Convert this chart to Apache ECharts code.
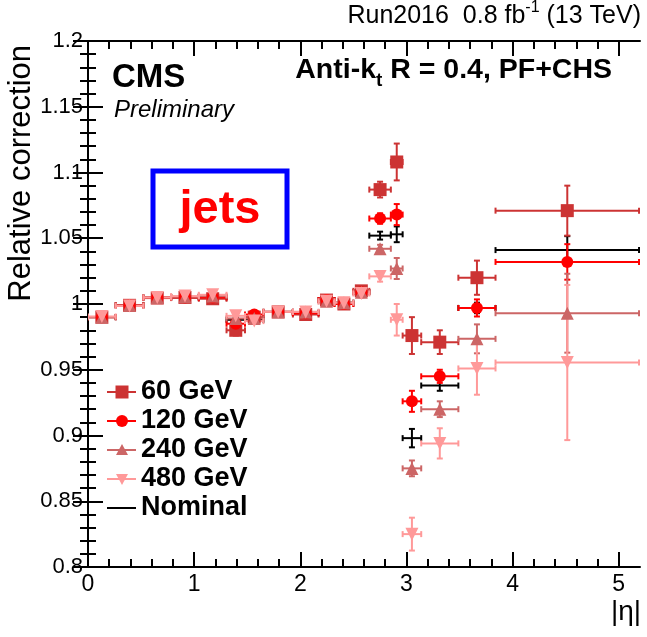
<!DOCTYPE html>
<html><head><meta charset="utf-8">
<script src="https://cdn.jsdelivr.net/npm/echarts@6/dist/echarts.min.js"></script>
<style>html,body{margin:0;padding:0;background:#fff}#c{width:647px;height:637px}</style>
</head><body><div id="c"></div>
<script>
// ---- data ----
const etaEdges = [0, 0.261, 0.522, 0.783, 1.044, 1.305, 1.479, 1.653, 1.930, 2.172, 2.322, 2.500, 2.650, 2.853, 2.964, 3.139, 3.489, 3.839, 5.191];
const seriesNames = ['60 GeV', '120 GeV', '240 GeV', '480 GeV', 'Nominal'];
const val60  = [0.990, 0.999, 1.0045, 1.005, 1.004, 0.980, 0.990, 0.994, 0.992, 1.003, 1.000, 1.010, 1.087, 1.108, 0.976, 0.971, 1.020, 1.071];
const err60  = [0.002, 0.002, 0.002, 0.002, 0.002, 0.004, 0.002, 0.002, 0.002, 0.002, 0.002, 0.003, 0.006, 0.014, 0.014, 0.009, 0.013, 0.019];
const val120 = [0.990, 0.999, 1.005, 1.005, 1.005, 0.985, 0.992, 0.994, 0.993, 1.003, 1.000, 1.009, 1.065, 1.068, 0.926, 0.945, 0.997, 1.032];
const err120 = [0.002, 0.002, 0.002, 0.002, 0.002, 0.003, 0.002, 0.002, 0.002, 0.002, 0.002, 0.003, 0.004, 0.008, 0.008, 0.005, 0.0065, 0.0135];
const val240 = [0.990, 0.999, 1.005, 1.0055, 1.006, 0.989, 0.989, 0.994, 0.994, 1.002, 1.001, 1.009, 1.042, 1.027, 0.875, 0.920, 0.9735, 0.993];
const err240 = [0.002, 0.002, 0.002, 0.002, 0.002, 0.003, 0.002, 0.002, 0.002, 0.002, 0.002, 0.003, 0.003, 0.008, 0.006, 0.006, 0.011, 0.030];
const val480 = [0.9905, 0.9985, 1.005, 1.006, 1.007, 0.991, 0.987, 0.994, 0.994, 1.002, 1.001, 1.008, 1.021, 0.988, 0.825, 0.894, 0.951, 0.9555];
const err480 = [0.002, 0.002, 0.002, 0.002, 0.002, 0.003, 0.002, 0.002, 0.002, 0.002, 0.002, 0.003, 0.004, 0.012, 0.0125, 0.0115, 0.020, 0.059];
const valNom = [0.990, 0.999, 1.005, 1.005, 1.005, 0.988, 0.988, 0.994, 0.993, 1.003, 1.001, 1.009, 1.052, 1.053, 0.898, 0.938, 0.997, 1.041];
const errNom = [0.002, 0.002, 0.002, 0.002, 0.002, 0.002, 0.002, 0.002, 0.002, 0.002, 0.002, 0.002, 0.003, 0.006, 0.007, 0.004, 0.004, 0.0106];
const xMajorTicks = [0, 1, 2, 3, 4, 5];
const xMinorTicks = [0.2, 0.4, 0.6, 0.8, 1.2, 1.4, 1.6, 1.8, 2.2, 2.4, 2.6, 2.8, 3.2, 3.4, 3.6, 3.8, 4.2, 4.4, 4.6, 4.8];
const yTickLabels = ['0.8', '0.85', '0.9', '0.95', '1', '1.05', '1.1', '1.15', '1.2'];

// ---- styles ----
const FONT = '"Liberation Sans", Arial, Helvetica, sans-serif';
const colors = ['#cc3333', '#ff0000', '#cc6666', '#ff9999', '#000000'];
const symbols = ['rect', 'circle', 'triangle', 'triangle', 'none'];
const symSizes = [13, 12, 13, 13, 0];
const symRot = [0, 0, 0, 180, 0];

function buildData(vals, errs) {
  return vals.map((v, i) => {
    const lo = etaEdges[i], hi = etaEdges[i + 1];
    return [(lo + hi) / 2, v, lo, hi, errs[i]];
  });
}
const allVals = [val60, val120, val240, val480, valNom];
const allErrs = [err60, err120, err240, err480, errNom];

function errRender(color) {
  return function (params, api) {
    const x = api.value(0), y = api.value(1), xl = api.value(2), xh = api.value(3), e = api.value(4);
    const c = api.coord([x, y]);
    const pl = api.coord([xl, y]), ph = api.coord([xh, y]);
    const pt = api.coord([x, y + e]), pb = api.coord([x, y - e]);
    const cap = 3;
    const style = { stroke: color, lineWidth: 2, fill: null };
    const L = (x1, y1, x2, y2) => ({ type: 'line', shape: { x1, y1, x2, y2 }, style });
    return {
      type: 'group',
      children: [
        L(pl[0], c[1], ph[0], c[1]),
        L(pl[0], c[1] - cap, pl[0], c[1] + cap),
        L(ph[0], c[1] - cap, ph[0], c[1] + cap),
        L(c[0], pt[1], c[0], pb[1]),
        L(c[0] - cap, pt[1], c[0] + cap, pt[1]),
        L(c[0] - cap, pb[1], c[0] + cap, pb[1])
      ]
    };
  };
}

const order = [4, 0, 1, 2, 3];
const series = [];
order.forEach(k => {
  const data = buildData(allVals[k], allErrs[k]);
  series.push({
    type: 'custom', name: seriesNames[k] + ' err', renderItem: errRender(colors[k]),
    data: data, encode: { x: 0, y: 1 }, xAxisIndex: 0, yAxisIndex: 0, silent: true, clip: true
  });
  if (symbols[k] !== 'none') {
    series.push({
      type: 'scatter', name: seriesNames[k], data: data.map(d => [d[0], d[1]]),
      symbol: symbols[k], symbolSize: symSizes[k], symbolRotate: symRot[k],
      itemStyle: { color: colors[k], opacity: 1 }, xAxisIndex: 0, yAxisIndex: 0, silent: true
    });
  }
});

// ---- text measuring ----
const mctx = document.createElement('canvas').getContext('2d');
function tw(text, font) { mctx.font = font; return mctx.measureText(text).width; }
function T(x, y, text, font, fill, align, valign, extra) {
  return Object.assign({
    type: 'text', x: x, y: y, silent: true,
    style: { text: text, font: font, fill: fill || '#000', textAlign: align || 'left', align: align || 'left',
             textVerticalAlign: valign || 'middle', verticalAlign: valign || 'middle' }
  }, extra || {});
}

const graphics = [];
// header
{
  const f1 = '25px ' + FONT, f2 = '16px ' + FONT;
  const a = 'Run2016  0.8 fb', s = '-1', b = ' (13 TeV)';
  const total = tw(a, f1) + tw(s, f2) + tw(b, f1);
  let x = 641 - total;
  graphics.push(T(x, 16, a, f1)); x += tw(a, f1);
  graphics.push(T(x, 8, s, f2)); x += tw(s, f2);
  graphics.push(T(x, 16, b, f1));
}
// Anti-kt
{
  const f1 = 'bold 28.5px ' + FONT, f2 = 'bold 19px ' + FONT;
  const a = 'Anti-k', s = 't', b = ' R = 0.4, PF+CHS';
  const total = tw(a, f1) + tw(s, f2) + tw(b, f1);
  let x = 612 - total;
  graphics.push(T(x, 70, a, f1)); x += tw(a, f1);
  graphics.push(T(x, 81, s, f2)); x += tw(s, f2);
  graphics.push(T(x, 70, b, f1));
}
graphics.push(T(112, 78, 'CMS', 'bold 33px ' + FONT));
graphics.push(T(114, 110, 'Preliminary', 'italic 24px ' + FONT));
// jets box
graphics.push({ type: 'rect', shape: { x: 153, y: 171, width: 134, height: 76 }, style: { fill: '#fff', stroke: '#0000ff', lineWidth: 5 }, silent: true });
graphics.push(T(220, 210, 'jets', 'bold 47px ' + FONT, '#ff0000', 'center'));
// y title
graphics.push(T(21, 45, 'Relative correction', '31px ' + FONT, '#000', 'right', 'middle', { rotation: Math.PI / 2 }));
// x title
graphics.push(T(641, 612, '|η|', '28px ' + FONT, '#000', 'right'));
// legend
const legY = [392, 421, 450, 479, 508];
seriesNames.forEach((name, k) => {
  const y = legY[k], c = colors[k];
  graphics.push({ type: 'line', shape: { x1: 107, y1: y, x2: 136, y2: y }, style: { stroke: c, lineWidth: 2 }, silent: true });
  if (k === 0) graphics.push({ type: 'rect', shape: { x: 115.5, y: y - 6.5, width: 13, height: 13 }, style: { fill: c }, silent: true });
  if (k === 1) graphics.push({ type: 'circle', shape: { cx: 122, cy: y, r: 6 }, style: { fill: c }, silent: true });
  if (k === 2) graphics.push({ type: 'polygon', shape: { points: [[122, y - 6], [128, y + 5], [116, y + 5]] }, style: { fill: c }, silent: true });
  if (k === 3) graphics.push({ type: 'polygon', shape: { points: [[122, y + 6], [128, y - 5], [116, y - 5]] }, style: { fill: c }, silent: true });
  graphics.push(T(141, y, name, 'bold 27px ' + FONT));
});

const axisLine = { show: true, lineStyle: { color: '#000', width: 2 } };
const xCommon = { type: 'value', min: 0, max: 5.2, splitLine: { show: false } };
const yCommon = { type: 'value', min: 0.8, max: 1.2, interval: 0.05, splitLine: { show: false } };

const option = {
  animation: false,
  backgroundColor: '#fff',
  grid: { left: 88, right: 7, top: 41, bottom: 70, containLabel: false },
  xAxis: [
    Object.assign({}, xCommon, { position: 'bottom', axisLine,
      axisTick: { inside: true, length: 15, customValues: xMajorTicks, lineStyle: { color: '#000', width: 2 } },
      axisLabel: { customValues: xMajorTicks, color: '#000', fontSize: 23, fontFamily: FONT, margin: 6, formatter: v => String(Math.round(v)) } }),
    Object.assign({}, xCommon, { position: 'bottom', axisLine: { show: false },
      axisTick: { inside: true, length: 8, customValues: xMinorTicks, lineStyle: { color: '#000', width: 2 } },
      axisLabel: { show: false } }),
    Object.assign({}, xCommon, { position: 'top', axisLine,
      axisTick: { inside: true, length: 15, customValues: xMajorTicks, lineStyle: { color: '#000', width: 2 } },
      axisLabel: { show: false } }),
    Object.assign({}, xCommon, { position: 'top', axisLine: { show: false },
      axisTick: { inside: true, length: 8, customValues: xMinorTicks, lineStyle: { color: '#000', width: 2 } },
      axisLabel: { show: false } })
  ],
  yAxis: [
    Object.assign({}, yCommon, { position: 'left', axisLine,
      axisTick: { inside: true, length: 15, lineStyle: { color: '#000', width: 2 } },
      minorTick: { show: true, splitNumber: 5, length: 8, lineStyle: { color: '#000', width: 2 } },
      axisLabel: { color: '#000', fontSize: 22, fontFamily: FONT, margin: 5,
        formatter: v => { const i = Math.round((v - 0.8) / 0.05); return yTickLabels[i] || ''; } } }),
    Object.assign({}, yCommon, { position: 'right', axisLine,
      axisTick: { inside: true, length: 15, lineStyle: { color: '#000', width: 2 } },
      minorTick: { show: true, splitNumber: 5, length: 8, lineStyle: { color: '#000', width: 2 } },
      axisLabel: { show: false } })
  ],
  series: series,
  graphic: { elements: graphics }
};
const chart = echarts.init(document.getElementById('c'), null, { renderer: 'canvas' });
chart.setOption(option);
</script>
</body></html>
